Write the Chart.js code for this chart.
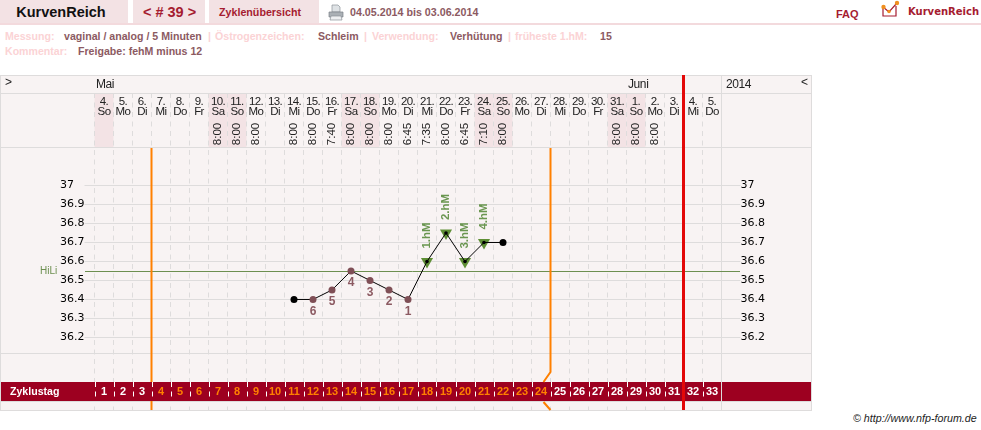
<!DOCTYPE html>
<html lang="de">
<head>
<meta charset="utf-8">
<title>KurvenReich</title>
<script src="https://cdn.jsdelivr.net/npm/chart.js@4"></script>
<style>
    html, body { margin: 0; padding: 0; background: #fff; width: 981px; height: 430px; overflow: hidden; }
    body { position: relative; font-family: "Liberation Sans", Arial, sans-serif; }
    #chart { position: absolute; left: 0; top: 0; }
    .abs { position: absolute; white-space: nowrap; }
    .cell { position: absolute; top: 0; height: 23px; background: #f3e2e4; line-height: 25px; text-align: center; box-sizing: border-box; }
    .rule { position: absolute; left: 0; top: 23px; width: 981px; height: 2px; background: #f3dadd; }
    .meta { font-size: 10.6px; font-weight: bold; line-height: 13px; }
    .k { color: #fbd3d5; }
    .v { color: #8c5a62; }
</style>
</head>
<body>
<div class="cell" style="left:0;width:128px;font-size:14.5px;font-weight:bold;color:#111;padding-right:6px">KurvenReich</div>
<div class="cell" style="left:133px;width:72px;font-size:14.5px;font-weight:bold;color:#a51c30;padding-left:1px">&lt; # 39 &gt;</div>
<div class="cell" style="left:209px;width:110px;font-size:10.7px;font-weight:bold;color:#a51c30;padding-right:8px">Zyklenübersicht</div>
<svg class="abs" style="left:328px;top:4px" width="16" height="17" viewBox="0 0 16 17">
    <path d="M4 1h6l2 2v5H4z" fill="#dfe3e6" stroke="#8c9399" stroke-width=".7"/>
    <path d="M1 8h14v5H1z" fill="#aab0b5" stroke="#7c8287" stroke-width=".7"/>
    <path d="M3 12h10l1 4H2z" fill="#eef0f2" stroke="#8c9399" stroke-width=".7"/>
</svg>
<div class="abs" style="left:350px;top:6px;font-size:10.7px;font-weight:bold;color:#8c5a62;line-height:13px">04.05.2014 bis 03.06.2014</div>
<div class="abs" style="left:836px;top:8px;font-size:11px;font-weight:bold;color:#a51c30;line-height:13px">FAQ</div>
<svg class="abs" style="left:880px;top:0" width="22" height="19" viewBox="0 0 22 19">
    <path d="M3 7v9h13V6" fill="none" stroke="#a51c30" stroke-width="1.2"/>
    <path d="M3 7l6 5 8-9" fill="none" stroke="#a51c30" stroke-width="1.2"/>
    <circle cx="3.5" cy="7" r="2.2" fill="#f09020"/>
    <circle cx="9" cy="11.5" r="1.8" fill="#f09020"/>
    <circle cx="17" cy="3" r="2.2" fill="#f09020"/>
</svg>
<div class="abs" style="left:908px;top:5px;font-family:'DejaVu Sans';font-size:10px;font-weight:bold;color:#a51c30;line-height:13px">KurvenReich</div>
<div class="rule"></div>

<div class="abs meta k" style="left:5px;top:30px">Messung:</div>
<div class="abs meta v" style="left:64px;top:30px">vaginal / analog / 5 Minuten</div>
<div class="abs meta k" style="left:208px;top:30px">|</div>
<div class="abs meta k" style="left:215px;top:30px">Östrogenzeichen:</div>
<div class="abs meta v" style="left:318px;top:30px">Schleim</div>
<div class="abs meta k" style="left:364px;top:30px">|</div>
<div class="abs meta k" style="left:372px;top:30px">Verwendung:</div>
<div class="abs meta v" style="left:450px;top:30px">Verhütung</div>
<div class="abs meta k" style="left:508px;top:30px">|</div>
<div class="abs meta k" style="left:515px;top:30px">früheste 1.hM:</div>
<div class="abs meta v" style="left:600px;top:30px">15</div>
<div class="abs meta k" style="left:5px;top:45px">Kommentar:</div>
<div class="abs meta v" style="left:78px;top:45px">Freigabe: fehM minus 12</div>

<canvas id="chart" width="812" height="430"></canvas>
<div class="abs" style="left:853px;top:412px;font-size:10.7px;font-style:italic;color:#222;line-height:13px">© http://www.nfp-forum.de</div>

<script>
const dayNums = ['4.','5.','6.','7.','8.','9.','10.','11.','12.','13.','14.','15.','16.','17.','18.','19.','20.','21.','22.','23.','24.','25.','26.','27.','28.','29.','30.','31.','1.','2.','3.','4.','5.'];
const dayNames = ['So','Mo','Di','Mi','Do','Fr','Sa','So','Mo','Di','Mi','Do','Fr','Sa','So','Mo','Di','Mi','Do','Fr','Sa','So','Mo','Di','Mi','Do','Fr','Sa','So','Mo','Di','Mi','Do'];
const times = [null,null,null,null,null,null,'8:00','8:00','8:00',null,'8:00','8:00','7:40','8:00','8:00','8:00','6:45','7:35','8:00','6:45','7:10','8:00',null,null,null,null,null,'8:00','8:00','8:00',null,null,null];
const cycleDays = [1,2,3,4,5,6,7,8,9,10,11,12,13,14,15,16,17,18,19,20,21,22,23,24,25,26,27,28,29,30,31,32,33];
const temps = [null,null,null,null,null,null,null,null,null,null,36.4,36.4,36.45,36.55,36.5,36.45,36.4,36.6,36.75,36.6,36.7,36.7,null,null,null,null,null,null,null,null,null,null,null];
const hmTemps = [null,null,null,null,null,null,null,null,null,null,null,null,null,null,null,null,null,36.6,36.75,36.6,36.7,null,null,null,null,null,null,null,null,null,null,null,null];
const lowLabels = [null,null,null,null,null,null,null,null,null,null,null,'6','5','4','3','2','1',null,null,null,null,null,null,null,null,null,null,null,null,null,null,null,null];
const hmLabels = [null,null,null,null,null,null,null,null,null,null,null,null,null,null,null,null,null,'1.hM','2.hM','3.hM','4.hM',null,null,null,null,null,null,null,null,null,null,null,null];
const yTicks = [37,36.9,36.8,36.7,36.6,36.5,36.4,36.3,36.2];
const hiLi = 36.55;
const fertileFrom = 3;   // Spalten vor der ersten orangen Linie
const fertileTo = 24;    // Spalten vor der zweiten orangen Linie
const todayCol = 31;     // Spalten vor der roten Linie

const PANEL = '#f8f3f3', LINE = '#dedcdc', WEEKEND = '#f3e3e5', BAND = '#9d0020', ORANGE = '#ff8000', RED = '#e30808', GREEN = '#5f8f35', HILI = '#6d8f50', MAROON = '#8c5a62', HM_TEXT = '#6a9650';
const UI = '"Liberation Sans", Arial, sans-serif';

function colEdge(x, i) {
    return x.getPixelForValue(i) - x.width / dayNums.length / 2;
}

function hline(ctx, y, x1, x2, color) {
    ctx.strokeStyle = color;
    ctx.lineWidth = 1;
    ctx.beginPath();
    ctx.moveTo(x1, y + 0.5);
    ctx.lineTo(x2, y + 0.5);
    ctx.stroke();
}

const tablePlugin = {
    id: 'table',
    beforeDraw(chart) {
        const { ctx } = chart;
        const x = chart.scales.x;
        ctx.save();
        ctx.fillStyle = PANEL;
        ctx.fillRect(0, 75, 811, 335);
        // Wochenenden nur in der Kopfzeile
        ctx.fillStyle = WEEKEND;
        dayNames.forEach((d, i) => {
            if (d === 'Sa' || d === 'So') ctx.fillRect(colEdge(x, i), 93, 19, 54);
        });
        ctx.restore();
    },
    beforeDatasetsDraw(chart) {
        const { ctx } = chart;
        const x = chart.scales.x, y = chart.scales.y;
        ctx.save();
        hline(ctx, 75, 0, 812, LINE);
        hline(ctx, 93, 0, 812, LINE);
        hline(ctx, 147, 0, 812, LINE);
        hline(ctx, 353, 0, 812, LINE);
        hline(ctx, 410, 0, 812, LINE);
        ctx.fillStyle = LINE;
        ctx.fillRect(0, 75, 1, 336);
        ctx.fillRect(811, 75, 1, 336);
        ctx.fillRect(721, 75, 1, 336);

        // Zyklustag-Band
        ctx.fillStyle = BAND;
        ctx.fillRect(1, 382, 810, 19);
        ctx.fillStyle = LINE;
        ctx.fillRect(721, 382, 1, 19);
        hline(ctx, 401, 0, 812, LINE);
        ctx.strokeStyle = '#fff';
        ctx.lineWidth = 1;
        ctx.setLineDash([5, 4.5]);
        for (let i = 0; i < dayNums.length; i++) {
            const ex = Math.round(colEdge(x, i)) + 0.5;
            ctx.beginPath();
            ctx.moveTo(ex, 382);
            ctx.lineTo(ex, 401);
            ctx.stroke();
        }
        ctx.setLineDash([]);

        // Kopfzeilen
        ctx.fillStyle = '#222';
        ctx.textBaseline = 'middle';
        ctx.font = '12px ' + UI;
        ctx.textAlign = 'left';
        ctx.letterSpacing = '-0.4px';
        ctx.fillText('>', 5, 83);
        ctx.fillText('Mai', 96, 85);
        ctx.fillText('Juni', 628, 85);
        ctx.fillText('2014', 726, 85);
        ctx.fillText('<', 801, 83);
        ctx.textAlign = 'center';
        dayNums.forEach((d, i) => {
            const cx = x.getPixelForValue(i);
            ctx.font = '11.5px ' + UI;
            ctx.letterSpacing = '-0.6px';
            ctx.fillText(d, cx, 102);
            ctx.fillText(dayNames[i], cx, 111.5);
            if (times[i]) {
                ctx.save();
                ctx.translate(cx, 134);
                ctx.rotate(-Math.PI / 2);
                ctx.letterSpacing = '0px';
                ctx.font = '11.5px ' + UI;
                ctx.fillText(times[i], 0, 0);
                ctx.restore();
            }
            ctx.letterSpacing = '0px';
            ctx.font = 'bold 11px ' + UI;
            ctx.fillStyle = (i >= fertileFrom && i < fertileTo) ? ORANGE : '#fff';
            ctx.fillText(cycleDays[i], cx, 392);
            ctx.fillStyle = '#222';
        });
        ctx.textAlign = 'left';
        ctx.fillStyle = '#fff';
        ctx.font = 'bold 10.6px ' + UI;
        ctx.fillText('Zyklustag', 10, 392);

        // Hochlage
        const hy = Math.round(y.getPixelForValue(hiLi));
        hline(ctx, hy, 85, 740, HILI);
        ctx.fillStyle = HILI;
        ctx.font = '10px ' + UI;
        ctx.fillText('HiLi', 40, hy);

        // Zyklusgrenzen
        const e1 = colEdge(x, fertileFrom), e2 = colEdge(x, fertileTo), er = colEdge(x, todayCol);
        ctx.strokeStyle = ORANGE;
        ctx.lineWidth = 2;
        ctx.beginPath();
        ctx.moveTo(e1, 148);
        ctx.lineTo(e1, 382);
        ctx.moveTo(e1, 401);
        ctx.lineTo(e1, 410);
        ctx.moveTo(e2, 148);
        ctx.lineTo(e2, 372);
        ctx.lineTo(e2 - 7, 382);
        ctx.moveTo(e2 - 7, 402);
        ctx.lineTo(e2, 410);
        ctx.stroke();
        ctx.strokeStyle = RED;
        ctx.lineWidth = 3;
        ctx.beginPath();
        ctx.moveTo(er, 75);
        ctx.lineTo(er, 410);
        ctx.stroke();
        ctx.restore();
    },
    afterDatasetsDraw(chart) {
        const { ctx } = chart;
        const pts = chart.getDatasetMeta(0).data;
        ctx.save();
        ctx.textAlign = 'center';
        ctx.textBaseline = 'middle';
        ctx.font = 'bold 12px ' + UI;
        pts.forEach((p, i) => {
            if (lowLabels[i]) {
                ctx.fillStyle = MAROON;
                ctx.fillText(lowLabels[i], p.x, p.y + 12);
            }
            if (hmLabels[i]) {
                ctx.save();
                ctx.translate(p.x, p.y - 26);
                ctx.rotate(-Math.PI / 2);
                ctx.fillStyle = HM_TEXT;
                ctx.font = 'bold 11.5px ' + UI;
                ctx.fillText(hmLabels[i], 0, 0);
                ctx.restore();
            }
        });
        ctx.restore();
    }
};

const pointColor = c => lowLabels[c.dataIndex] ? '#7f4f56' : '#000';
const pointSize = c => hmLabels[c.dataIndex] ? 1.8 : 3.5;

new Chart(document.getElementById('chart'), {
    type: 'line',
    data: {
        labels: dayNums.map((d, i) => d + ' ' + dayNames[i]),
        datasets: [
            {
                data: temps,
                order: 1,
                borderColor: '#000',
                borderWidth: 1,
                tension: 0,
                pointRadius: pointSize,
                pointBackgroundColor: pointColor,
                pointBorderWidth: 0
            },
            {
                data: hmTemps,
                order: 2,
                showLine: false,
                pointStyle: 'triangle',
                pointRotation: 180,
                pointRadius: 7,
                pointBackgroundColor: GREEN,
                pointBorderWidth: 0
            }
        ]
    },
    options: {
        responsive: false,
        animation: false,
        layout: { padding: { left: 60, right: 0, top: 93, bottom: 20 } },
        plugins: { legend: { display: false }, tooltip: { enabled: false } },
        scales: {
            x: {
                offset: true,
                border: { display: false, dash: [5, 4.5] },
                grid: { color: LINE, drawTicks: false, offset: true },
                ticks: { display: false },
                afterFit(axis) { axis.height = 0; }
            },
            y: {
                position: 'left',
                min: 35.818,
                max: 37.487,
                border: { display: false },
                grid: { color: LINE, tickLength: 10, tickColor: LINE },
                ticks: {
                    crossAlign: 'far',
                    padding: 0,
                    color: '#000',
                    font: { family: '"DejaVu Sans"', size: 11 },
                    callback: v => String(v)
                },
                afterBuildTicks(axis) { axis.ticks = yTicks.map(v => ({ value: v })); },
                afterFit(axis) { axis.width = 34.5; }
            },
            y2: {
                position: 'right',
                min: 35.818,
                max: 37.487,
                border: { display: false },
                grid: { drawOnChartArea: false, tickLength: 19, tickColor: LINE },
                ticks: {
                    padding: 0,
                    color: '#000',
                    font: { family: '"DejaVu Sans"', size: 11 },
                    callback: v => String(v)
                },
                afterBuildTicks(axis) { axis.ticks = yTicks.map(v => ({ value: v })); },
                afterFit(axis) { axis.width = 90.5; }
            }
        }
    },
    plugins: [tablePlugin]
});
</script>
</body>
</html>
